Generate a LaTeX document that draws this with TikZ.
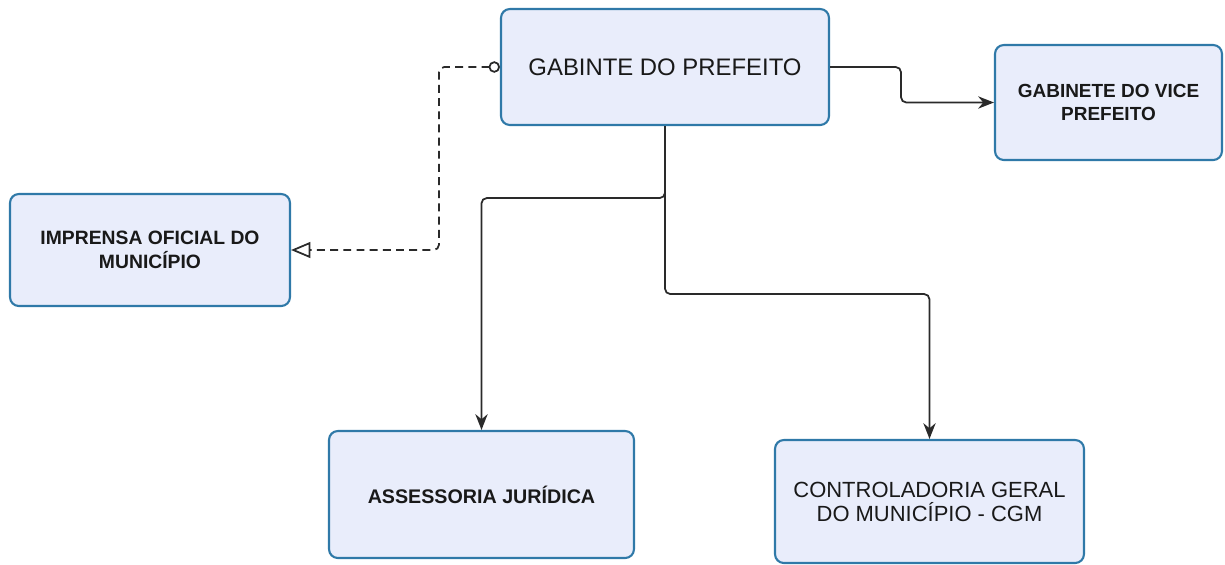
\documentclass[tikz,border=0pt]{standalone}
\usepackage{fontspec}
\setmainfont{Liberation Sans}
\usepackage{xcolor}
\usetikzlibrary{positioning,calc,arrows.meta}
\definecolor{boxfill}{HTML}{E9EDFB}
\definecolor{boxline}{HTML}{2F79A8}
\definecolor{wire}{HTML}{2A2A2A}

\begin{document}
\begin{tikzpicture}[x=0.02cm, y=-0.02cm,
    orgbox/.style={draw=boxline, fill=boxfill, line width=1.2pt, rounded corners=5pt, align=center, text=black!90},
    link/.style={draw=wire, line width=1pt, rounded corners=3pt},
    tip/.style={-{Stealth[length=9pt,width=7pt]}}]
    \useasboundingbox (0,0) rectangle (1225,565);

    % boxes
    \node[orgbox, minimum width=6.56cm, minimum height=2.32cm, font=\fontsize{13.6}{16}\selectfont] (pref) at (665,67) {GABINTE DO PREFEITO};
    \node[orgbox, minimum width=4.54cm, minimum height=2.3cm, font=\bfseries\fontsize{10.8}{13}\selectfont] (vice) at (1108.5,102.5) {GABINETE DO VICE\\PREFEITO};
    \node[orgbox, minimum width=5.6cm, minimum height=2.24cm, font=\bfseries\fontsize{11}{13.6}\selectfont] (imp) at (150,250) {IMPRENSA OFICIAL DO\\MUNICÍPIO};
    \node[orgbox, minimum width=6.1cm, minimum height=2.54cm, font=\bfseries\fontsize{11.2}{13.6}\selectfont] (ass) at (481.5,494.5) {ASSESSORIA JURÍDICA};
    \node[orgbox, minimum width=6.18cm, minimum height=2.46cm, font=\fontsize{12.5}{13.6}\selectfont] (cgm) at (929.5,501.5) {CONTROLADORIA GERAL\\DO MUNICÍPIO - CGM};

    % connectors
    \draw[link, tip] (pref.east) -- ++(71,0) |- (vice.west);
    \draw[link, dash pattern=on 4.5pt off 3pt, {Circle[open,length=6.5pt]}-{Triangle[open,length=11pt,width=9pt]}] (pref.west) -- ++(-61,0) |- (imp.east);
    \draw[link, tip] (pref.south) -- ++(0,72) -| (ass.north);
    \draw[link, tip] (pref.south) -- ++(0,168) -| (cgm.north);
\end{tikzpicture}
\end{document}
